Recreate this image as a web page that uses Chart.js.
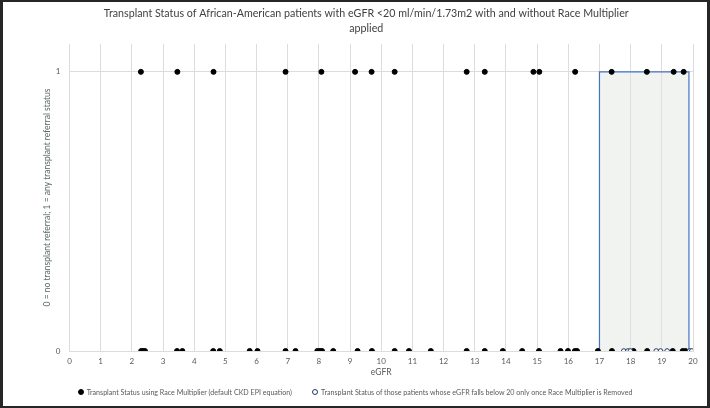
<!DOCTYPE html>
<html>
<head>
<meta charset="utf-8">
<script src="https://cdn.jsdelivr.net/npm/chart.js@4"></script>
<style>
  html, body { margin: 0; padding: 0; background: #fff; }
  #wrap { position: relative; width: 710px; height: 408px; font-family: Lato, "Open Sans", sans-serif; }
  #frame { position: absolute; left: 0; top: 0; width: 710px; height: 408px; box-sizing: border-box;
           border: 2px solid #262626; border-left-width: 3px; border-right-width: 3px; pointer-events: none; }
  #legend { position: absolute; left: 0; width: 710px; top: 388px; text-align: center; font-size: 7.1px; color: #595959; white-space: nowrap; }
  #legend span.item { display: inline-block; margin: 0 10px; }
  #legend i { display: inline-block; width: 4px; height: 4px; border-radius: 50%; margin-right: 3px; vertical-align: 0px; }
</style>
</head>
<body>
<div id="wrap">
  <canvas id="chart" width="710" height="408"></canvas>
  <div id="legend"></div>
  <div id="frame"></div>
</div>
<script>
// eGFR values with any transplant referral status (y = 1), race multiplier applied
const referredEgfr = [2.29, 3.46, 4.62, 6.93, 8.08, 9.16, 9.69, 10.43, 12.74, 13.32,
  14.88, 15.07, 16.22, 17.39, 18.52, 19.38, 19.70];

// eGFR values with no transplant referral (y = 0), race multiplier applied
const notReferredEgfr = [2.30, 2.36, 2.42, 3.45, 3.62, 4.61, 4.82, 5.78, 6.03, 6.93,
  7.25, 7.95, 8.03, 8.10, 8.46, 9.24, 9.70, 10.43, 10.89, 11.59, 12.74, 13.32, 13.90,
  14.52, 15.06, 15.75, 15.99, 16.21, 16.28, 16.95, 17.40, 18.09, 18.53, 19.35, 19.67, 19.76];

// patients whose eGFR falls below 20 only once race multiplier is removed (all y = 0)
const removedEgfr = [17.78, 17.91, 17.99, 18.82, 18.96, 19.17, 19.89, 19.96];

// highlighted band on the eGFR axis
const bandEgfr = [17, 19.87];

const xTicks = [0, 1, 2, 3, 4, 5, 6, 7, 8, 9, 10, 11, 12, 13, 14, 15, 16, 17, 18, 19, 20];
const yTicks = [0, 1];

const titleLines = ['Transplant Status of African-American patients with eGFR <20 ml/min/1.73m2 with and without Race Multiplier', 'applied'];
const seriesNames = ['Transplant Status using Race Multiplier (default CKD EPI equation)',
  'Transplant Status of those patients whose eGFR falls below 20 only once Race Multiplier is Removed'];

const textColor = '#595959';
const gridColor = '#dcdcdc';
const font = 'Lato, "Open Sans", sans-serif';

const withRace = referredEgfr.map(x => ({ x, y: 1 }))
  .concat(notReferredEgfr.map(x => ({ x, y: 0 })));
const withoutRace = removedEgfr.map(x => ({ x, y: 0 }));
const band = [
  { x: bandEgfr[0], y: 0 }, { x: bandEgfr[0], y: 1 },
  { x: bandEgfr[1], y: 1 }, { x: bandEgfr[1], y: 0 }
];

const chart = new Chart(document.getElementById('chart'), {
  type: 'scatter',
  data: {
    datasets: [
      {
        label: seriesNames[0],
        data: withRace,
        pointStyle: 'circle',
        pointRadius: 2.5,
        backgroundColor: '#000',
        borderColor: '#000',
        borderWidth: 1,
        order: 1
      },
      {
        label: seriesNames[1],
        data: withoutRace,
        pointStyle: 'circle',
        pointRadius: 2.3,
        backgroundColor: '#fff',
        borderColor: '#1f3864',
        borderWidth: 1,
        order: 0
      },
      {
        label: 'band',
        data: band,
        showLine: true,
        pointRadius: 0,
        borderColor: '#4472c4',
        borderWidth: 1.2,
        backgroundColor: 'rgba(225, 229, 225, 0.45)',
        fill: 'origin',
        order: 2
      }
    ]
  },
  options: {
    responsive: false,
    animation: false,
    layout: { padding: { left: 39.5, right: 17, top: 2, bottom: 27 } },
    plugins: {
      title: {
        display: true,
        text: titleLines,
        color: '#404040',
        font: { family: font, size: 10.7, weight: 'normal', lineHeight: 1.4 },
        padding: { top: 4, bottom: 8 }
      },
      legend: { display: false },
      tooltip: { enabled: false }
    },
    scales: {
      x: {
        type: 'linear',
        min: 0,
        max: 20,
        afterBuildTicks: axis => { axis.ticks = xTicks.map(v => ({ value: v })); },
        afterFit: axis => { axis.height = 30; },
        grid: { color: gridColor, drawTicks: false },
        border: { color: gridColor },
        ticks: { color: textColor, font: { family: font, size: 8 }, padding: 6 },
        title: { display: true, text: 'eGFR', color: textColor, font: { family: font, size: 8.5 }, padding: { top: 0, bottom: 4 } }
      },
      y: {
        type: 'linear',
        min: 0,
        max: 1.1,
        afterBuildTicks: axis => { axis.ticks = yTicks.map(v => ({ value: v })); },
        afterFit: axis => { axis.width = 30; },
        grid: { color: gridColor, drawTicks: false },
        border: { display: false },
        ticks: { color: textColor, font: { family: font, size: 8 }, padding: 9 },
        title: { display: true, text: '0 = no transplant referral; 1 = any transplant referral status', color: '#5a6966', font: { family: font, size: 8.5 }, padding: { top: 3, bottom: 0 } }
      }
    }
  }
});

// legend as plain text under the chart
const legendEl = document.getElementById('legend');
chart.data.datasets.slice(0, 2).forEach(ds => {
  const item = document.createElement('span');
  item.className = 'item';
  const dot = document.createElement('i');
  dot.style.background = ds.backgroundColor;
  dot.style.border = '1px solid ' + ds.borderColor;
  item.appendChild(dot);
  item.appendChild(document.createTextNode(ds.label));
  legendEl.appendChild(item);
});
</script>
</body>
</html>
